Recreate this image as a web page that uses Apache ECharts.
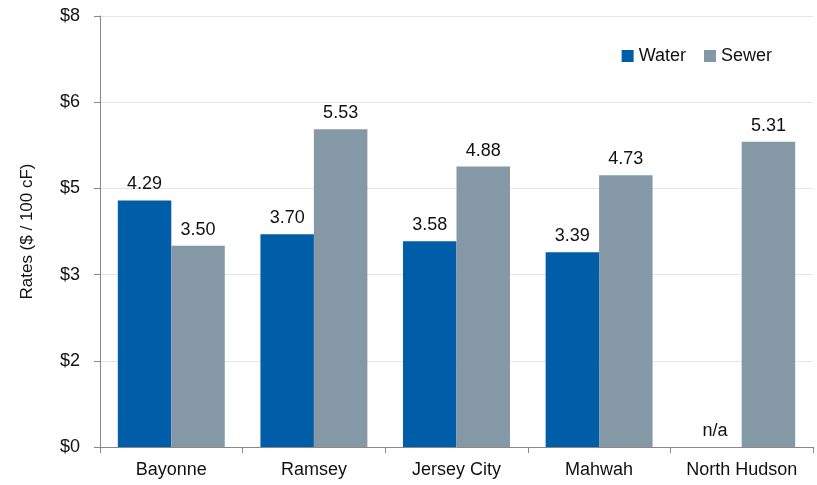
<!DOCTYPE html>
<html><head><meta charset="utf-8">
<script src="https://cdn.jsdelivr.net/npm/echarts@6/dist/echarts.min.js"></script>
<style>html,body{margin:0;padding:0;background:#fff}#c{width:817px;height:485px}</style>
</head><body><div id="c"></div>
<script>
var categories = ['Bayonne', 'Ramsey', 'Jersey City', 'Mahwah', 'North Hudson'];
var water = [4.29, 3.70, 3.58, 3.39, 0];
var sewer = [3.50, 5.53, 4.88, 4.73, 5.31];
var waterLabels = ['4.29', '3.70', '3.58', '3.39', 'n/a'];
var sewerLabels = ['3.50', '5.53', '4.88', '4.73', '5.31'];
var yMin = 0, yMax = 7.5, yStep = 1.5;

var font = 'Liberation Sans, Arial, sans-serif';
var chart = echarts.init(document.getElementById('c'));
chart.setOption({
  animation: false,
  textStyle: { fontFamily: font },
  legend: {
    right: 40, top: 42, itemWidth: 12, itemHeight: 12, itemGap: 18,
    icon: 'rect',
    textStyle: { fontSize: 18, color: '#111', fontFamily: font },
    data: ['Water', 'Sewer']
  },
  grid: { left: 100, right: 4, top: 16, bottom: 38 },
  xAxis: {
    type: 'category', data: categories,
    axisLine: { lineStyle: { color: '#888' } },
    axisTick: { show: true, interval: 0, alignWithLabel: false, length: 6, lineStyle: { color: '#888' } },
    axisLabel: { interval: 0, fontSize: 18, color: '#111', margin: 14, fontFamily: font }
  },
  yAxis: {
    type: 'value', min: yMin, max: yMax, interval: yStep,
    name: 'Rates ($ / 100 cF)', nameLocation: 'middle', nameGap: 64,
    nameTextStyle: { fontSize: 17, color: '#111', fontFamily: font },
    axisLine: { show: true, lineStyle: { color: '#888' } },
    axisTick: { show: true, length: 6, lineStyle: { color: '#888' } },
    splitLine: { show: true, lineStyle: { color: '#e4e4e4' } },
    axisLabel: { fontSize: 18, color: '#111', margin: 20, fontFamily: font,
      formatter: function (v) { return '$' + Math.round(v); } }
  },
  series: [
    { name: 'Water', type: 'bar', data: water, barGap: '0%', barCategoryGap: '25%',
      itemStyle: { color: '#005DA8' },
      label: { show: true, position: 'top', distance: 7, fontSize: 18, color: '#111', fontFamily: font,
        formatter: function (p) { return waterLabels[p.dataIndex]; } } },
    { name: 'Sewer', type: 'bar', data: sewer, barGap: '0%', barCategoryGap: '25%',
      itemStyle: { color: '#8499A5' },
      label: { show: true, position: 'top', distance: 7, fontSize: 18, color: '#111', fontFamily: font,
        formatter: function (p) { return sewerLabels[p.dataIndex]; } } }
  ]
});
</script></body></html>
